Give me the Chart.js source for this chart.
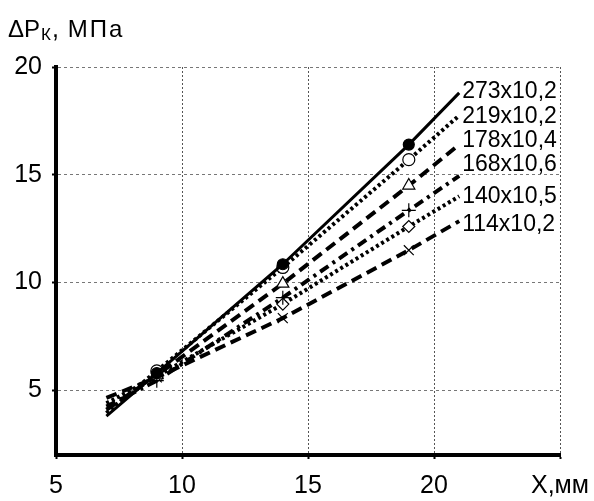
<!DOCTYPE html>
<html>
<head>
<meta charset="utf-8">
<script src="https://cdn.jsdelivr.net/npm/chart.js@4.4.1/dist/chart.umd.min.js"></script>
<style>
  html, body { margin: 0; padding: 0; background: #fff; }
  #wrap { width: 594px; height: 501px; position: relative; }
</style>
</head>
<body>
<div id="wrap"><canvas id="chart"></canvas></div>
<script>
// Abscisses des courbes (début, 3 points mesurés, fin)
const xPoints = [7, 9, 14, 19, 21];

// Noms des séries (diamètre x épaisseur)
const seriesNames = ['273x10,2', '219x10,2', '178x10,4', '168x10,6', '140x10,5', '114x10,2'];

// Valeurs
const s273 = [3.8, 5.8, 10.85, 16.4, 18.8];
const s219 = [3.95, 5.9, 10.7, 15.7, 17.75];
const s178 = [4.1, 5.7, 9.95, 14.5, 16.4];
const s168 = [4.25, 5.45, 9.3, 13.35, 14.95];
const s140 = [4.4, 5.65, 9.0, 12.6, 14.0];
const s114 = [4.65, 5.6, 8.35, 11.5, 12.85];

const xTicks = [5, 10, 15, 20, 25];
const xLastLabel = 'X,мм';
const yTicks = [5, 10, 15, 20];

const FONT = "'Liberation Sans', Arial, sans-serif";

const allSeries = [s273, s219, s178, s168, s140, s114];

// Styles : trait, pointillés, marqueurs, décalage vertical de l'étiquette
const styles = [
    { dash: [], width: 3, point: 'circle', fill: '#000', r: 5.5, dy: -1 },
    { dash: [3, 3], width: 4, point: 'circle', fill: '#fff', r: 6, dy: 1 },
    { dash: [11, 6], width: 4, point: 'triangle', fill: '#fff', r: 7, dy: -4 },
    { dash: [10, 5, 3, 5], width: 4, point: 'cross', fill: '#fff', r: 7, dy: -11 },
    { dash: [3, 3], width: 4, point: 'rectRot', fill: '#fff', r: 6, dy: 0 },
    { dash: [11, 6], width: 4, point: 'crossRot', fill: '#fff', r: 7, dy: 4 }
];

const datasets = allSeries.map((vals, i) => {
    const st = styles[i];
    return {
        label: seriesNames[i],
        data: xPoints.map((x, k) => ({ x: x, y: vals[k] })),
        showLine: true,
        borderColor: '#000',
        borderWidth: st.width,
        borderDash: st.dash,
        borderCapStyle: 'butt',
        tension: 0,
        fill: false,
        pointStyle: st.point,
        pointRadius: xPoints.map((x, k) => (k === 0 || k === xPoints.length - 1) ? 0 : st.r),
        pointBackgroundColor: st.fill,
        pointBorderColor: '#000',
        pointBorderWidth: 1.2
    };
});

// Titre de l'axe Y et étiquettes des séries
const textPlugin = {
    id: 'texts',
    afterDraw(chart) {
        const ctx = chart.ctx;
        ctx.save();
        ctx.fillStyle = '#000';
        ctx.textBaseline = 'alphabetic';
        ctx.textAlign = 'left';
        // ΔPк, МПа
        let x = 8;
        const yb = 37;
        ctx.font = '24px ' + FONT;
        ctx.fillText('ΔP', x, yb);
        x += ctx.measureText('ΔP').width + 1;
        ctx.font = '17px ' + FONT;
        ctx.fillText('К', x, yb + 3);
        x += ctx.measureText('К').width + 1;
        ctx.font = '25px ' + FONT;
        ctx.fillText(', ', x, yb);
        x += ctx.measureText(', ').width + 2;
        ctx.font = '24px ' + FONT;
        const letters = ['М', 'П', 'а'];
        letters.forEach(ch => {
            ctx.fillText(ch, x, yb);
            x += ctx.measureText(ch).width + 2;
        });

        // étiquettes en bout de courbe
        const xs = chart.scales.x, ys = chart.scales.y;
        ctx.font = '23px ' + FONT;
        ctx.textBaseline = 'middle';
        allSeries.forEach((vals, i) => {
            const px = xs.getPixelForValue(xPoints[xPoints.length - 1]) + 3;
            const py = ys.getPixelForValue(vals[vals.length - 1]) + styles[i].dy;
            ctx.fillText(seriesNames[i], px, py);
        });
        ctx.restore();
    }
};

new Chart(document.getElementById('chart').getContext('2d'), {
    type: 'scatter',
    data: { datasets: datasets },
    options: {
        responsive: true,
        maintainAspectRatio: false,
        animation: false,
        layout: { padding: { top: 67, right: 34, left: 0, bottom: 0 } },
        plugins: {
            legend: { display: false },
            tooltip: { enabled: false }
        },
        scales: {
            x: {
                type: 'linear',
                min: 5,
                max: 25,
                afterBuildTicks: s => { s.ticks = xTicks.map(v => ({ value: v })); },
                afterFit: s => {
                    s.height = 46;
                    s.paddingLeft = 0;
                    s.paddingRight = 0;
                },
                ticks: {
                    color: '#000',
                    font: { family: FONT, size: 25 },
                    padding: 12,
                    maxRotation: 0,
                    autoSkip: false,
                    callback: v => v === 25 ? xLastLabel : v
                },
                grid: {
                    color: '#555',
                    lineWidth: 1,
                    tickLength: 4,
                    tickColor: '#000',
                    tickWidth: 2,
                    tickBorderDash: []
                },
                border: { color: '#000', width: 4, dash: [2, 2] }
            },
            y: {
                type: 'linear',
                min: 2,
                max: 20,
                afterBuildTicks: s => { s.ticks = yTicks.map(v => ({ value: v })); },
                afterFit: s => {
                    s.width = 56;
                    s.paddingTop = 0;
                    s.paddingBottom = 0;
                },
                ticks: {
                    color: '#000',
                    font: { family: FONT, size: 25 },
                    padding: 10
                },
                grid: {
                    color: '#777',
                    lineWidth: 1,
                    tickLength: 4,
                    tickColor: '#000',
                    tickWidth: 2,
                    tickBorderDash: []
                },
                border: { color: '#000', width: 4, dash: [3, 3] }
            }
        }
    },
    plugins: [textPlugin]
});
</script>
</body>
</html>
